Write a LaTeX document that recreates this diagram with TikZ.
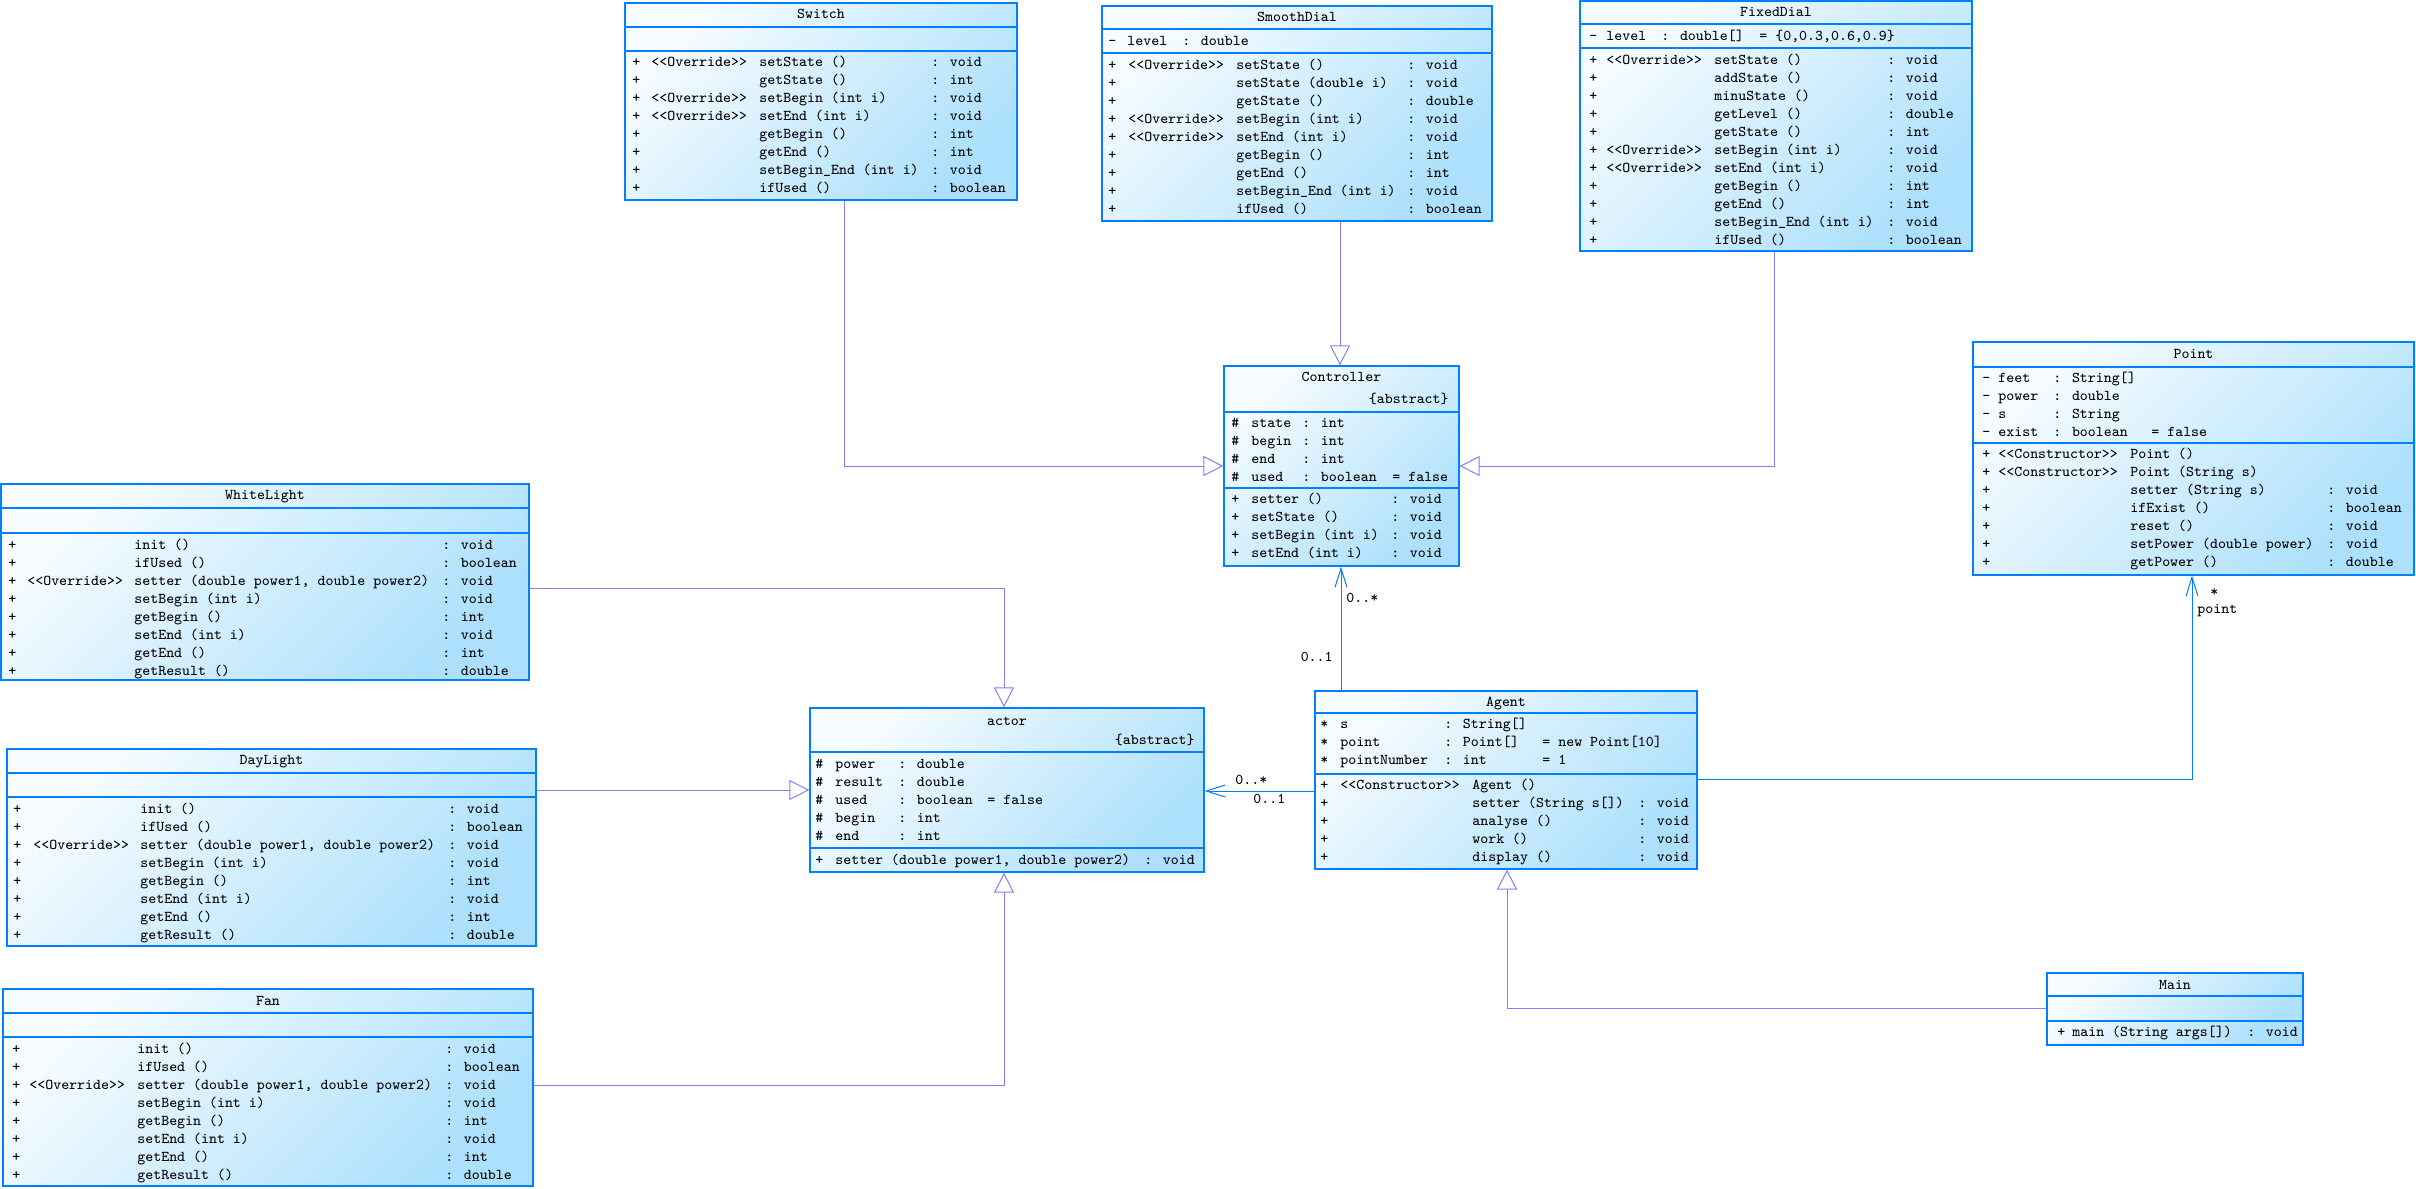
\documentclass[tikz,border=0pt]{standalone}
\usetikzlibrary{arrows.meta,fit}
\definecolor{bblue}{RGB}{0,128,255}
\definecolor{gline}{RGB}{128,128,255}
\definecolor{ctop}{RGB}{247,252,255}
\definecolor{cbot}{RGB}{172,224,252}
\newcommand\umlfont{\ttfamily\fontsize{7.5}{9}\selectfont}
\newcommand\hsep[2]{\draw[bblue, line width=0.6pt] (#1.west |- 0,#2) -- (#1.east |- 0,#2);}
\tikzset{
  classbox/.style={draw=bblue, line width=0.6pt, top color=ctop, bottom color=cbot, shading angle=45, inner sep=0pt},
  txt/.style={inner sep=0pt, font=\umlfont, text=black},
  gen/.style={draw=gline, line width=0.5pt, -{Triangle[open, length=10pt, width=10pt]}},
  asc/.style={draw=bblue, line width=0.5pt, -{Straight Barb[length=9.5pt, width=6pt]}},
}
\begin{document}
\begin{tikzpicture}[x=0.5pt, y=-0.5pt]
\fill[white] (0,0) rectangle (2416,1189);
\useasboundingbox (0,0) rectangle (2416,1189);

% ---------------- Switch
\node[classbox, fit={(625,3) (1017,200)}] (switch) {};
\hsep{switch}{27}\hsep{switch}{51}
\node[txt, anchor=base] (switch-t) at (switch.north |- 0,18) {Switch};
\node[txt, anchor=base west] (switch-o) at (632,66) {\begin{tabular}[t]{@{}p{9.5pt}@{}p{54pt}@{}p{86pt}@{}l@{}}
+ & <<Override>> & setState () & : void\\
+ & & getState () & : int\\
+ & <<Override>> & setBegin (int i) & : void\\
+ & <<Override>> & setEnd (int i) & : void\\
+ & & getBegin () & : int\\
+ & & getEnd () & : int\\
+ & & setBegin\_End (int i) & : void\\
+ & & ifUsed () & : boolean
\end{tabular}};

% ---------------- SmoothDial
\node[classbox, fit={(1102,6) (1492,221)}] (smooth) {};
\hsep{smooth}{29}\hsep{smooth}{53}
\node[txt, anchor=base] (smooth-t) at (smooth.north |- 0,21) {SmoothDial};
\node[txt, anchor=base west] (smooth-a) at (1108,45) {\begin{tabular}[t]{@{}p{9.5pt}@{}p{27.5pt}@{}l@{}}
- & level & : double
\end{tabular}};
\node[txt, anchor=base west] (smooth-o) at (1108,69) {\begin{tabular}[t]{@{}p{10pt}@{}p{54pt}@{}p{85.5pt}@{}l@{}}
+ & <<Override>> & setState () & : void\\
+ & & setState (double i) & : void\\
+ & & getState () & : double\\
+ & <<Override>> & setBegin (int i) & : void\\
+ & <<Override>> & setEnd (int i) & : void\\
+ & & getBegin () & : int\\
+ & & getEnd () & : int\\
+ & & setBegin\_End (int i) & : void\\
+ & & ifUsed () & : boolean
\end{tabular}};

% ---------------- FixedDial
\node[classbox, fit={(1580,1) (1972,251)}] (fixed) {};
\hsep{fixed}{24}\hsep{fixed}{48}
\node[txt, anchor=base] (fixed-t) at (fixed.north |- 0,16) {FixedDial};
\node[txt, anchor=base west] (fixed-a) at (1589,40) {\begin{tabular}[t]{@{}p{8.5pt}@{}p{27.5pt}@{}p{49pt}@{}l@{}}
- & level & : double[] & = \{0,0.3,0.6,0.9\}
\end{tabular}};
\node[txt, anchor=base west] (fixed-o) at (1589,64) {\begin{tabular}[t]{@{}p{8.5pt}@{}p{54pt}@{}p{86.5pt}@{}l@{}}
+ & <<Override>> & setState () & : void\\
+ & & addState () & : void\\
+ & & minuState () & : void\\
+ & & getLevel () & : double\\
+ & & getState () & : int\\
+ & <<Override>> & setBegin (int i) & : void\\
+ & <<Override>> & setEnd (int i) & : void\\
+ & & getBegin () & : int\\
+ & & getEnd () & : int\\
+ & & setBegin\_End (int i) & : void\\
+ & & ifUsed () & : boolean
\end{tabular}};

% ---------------- Controller
\node[classbox, fit={(1224,366) (1459,566)}] (ctrl) {};
\hsep{ctrl}{412}\hsep{ctrl}{488}
\node[txt, anchor=base] (ctrl-t) at (ctrl.north |- 0,381) {Controller};
\node[txt, anchor=base east] (ctrl-s) at (1449,403) {\{abstract\}};
\node[txt, anchor=base west] (ctrl-a) at (1231,427) {\begin{tabular}[t]{@{}p{10pt}@{}p{25.5pt}@{}p{45pt}@{}l@{}}
\# & state & : int & \\
\# & begin & : int & \\
\# & end & : int & \\
\# & used & : boolean & = false
\end{tabular}};
\node[txt, anchor=base west] (ctrl-o) at (1231,503) {\begin{tabular}[t]{@{}p{10pt}@{}p{70pt}@{}l@{}}
+ & setter () & : void\\
+ & setState () & : void\\
+ & setBegin (int i) & : void\\
+ & setEnd (int i) & : void
\end{tabular}};

% ---------------- Point
\node[classbox, fit={(1973,342) (2414,575)}] (point) {};
\hsep{point}{367}\hsep{point}{443}
\node[txt, anchor=base] (point-t) at (point.north |- 0,358) {Point};
\node[txt, anchor=base west] (point-a) at (1982,382) {\begin{tabular}[t]{@{}p{8pt}@{}p{27.5pt}@{}p{49pt}@{}l@{}}
- & feet & : String[] & \\
- & power & : double & \\
- & s & : String & \\
- & exist & : boolean & = false
\end{tabular}};
\node[txt, anchor=base west] (point-o) at (1982,458) {\begin{tabular}[t]{@{}p{8pt}@{}p{66pt}@{}p{98.5pt}@{}l@{}}
+ & <<Constructor>> & Point () & \\
+ & <<Constructor>> & Point (String s) & \\
+ & & setter (String s) & : void\\
+ & & ifExist () & : boolean\\
+ & & reset () & : void\\
+ & & setPower (double power) & : void\\
+ & & getPower () & : double
\end{tabular}};

% ---------------- actor
\node[classbox, fit={(810,708) (1204,872)}] (actor) {};
\hsep{actor}{752}\hsep{actor}{848}
\node[txt, anchor=base] (actor-t) at (actor.north |- 0,725) {actor};
\node[txt, anchor=base east] (actor-s) at (1195,744) {\{abstract\}};
\node[txt, anchor=base west] (actor-a) at (815,768) {\begin{tabular}[t]{@{}p{10pt}@{}p{31.5pt}@{}p{44.5pt}@{}l@{}}
\# & power & : double & \\
\# & result & : double & \\
\# & used & : boolean & = false\\
\# & begin & : int & \\
\# & end & : int &
\end{tabular}};
\node[txt, anchor=base west] (actor-o) at (815,864) {\begin{tabular}[t]{@{}p{10pt}@{}p{154.5pt}@{}l@{}}
+ & setter (double power1, double power2) & : void
\end{tabular}};

% ---------------- Agent
\node[classbox, fit={(1315,691) (1697,869)}] (agent) {};
\hsep{agent}{713}\hsep{agent}{774}
\node[txt, anchor=base] (agent-t) at (agent.north |- 0,706) {Agent};
\node[txt, anchor=base west] (agent-a) at (1320,728) {\begin{tabular}[t]{@{}p{10pt}@{}p{52pt}@{}p{49pt}@{}l@{}}
{*} & s & : String[] & \\
{*} & point & : Point[] & = new Point[10]\\
{*} & pointNumber & : int & = 1
\end{tabular}};
\node[txt, anchor=base west] (agent-o) at (1320,789) {\begin{tabular}[t]{@{}p{10pt}@{}p{66pt}@{}p{83pt}@{}l@{}}
+ & <<Constructor>> & Agent () & \\
+ & & setter (String s[]) & : void\\
+ & & analyse () & : void\\
+ & & work () & : void\\
+ & & display () & : void
\end{tabular}};

% ---------------- Main
\node[classbox, fit={(2047,973) (2303,1045)}] (main) {};
\hsep{main}{996}\hsep{main}{1021}
\node[txt, anchor=base] (main-t) at (main.north |- 0,989) {Main};
\node[txt, anchor=base west] (main-o) at (2057,1036) {\begin{tabular}[t]{@{}p{7.5pt}@{}p{87.5pt}@{}l@{}}
+ & main (String args[]) & : void
\end{tabular}};

% ---------------- WhiteLight
\node[classbox, fit={(1,484) (529,680)}] (white) {};
\hsep{white}{508}\hsep{white}{533}
\node[txt, anchor=base] (white-t) at (white.north |- 0,499) {WhiteLight};
\node[txt, anchor=base west] (white-o) at (8,549) {\begin{tabular}[t]{@{}p{9.5pt}@{}p{53.5pt}@{}p{154pt}@{}l@{}}
+ & & init () & : void\\
+ & & ifUsed () & : boolean\\
+ & <<Override>> & setter (double power1, double power2) & : void\\
+ & & setBegin (int i) & : void\\
+ & & getBegin () & : int\\
+ & & setEnd (int i) & : void\\
+ & & getEnd () & : int\\
+ & & getResult () & : double
\end{tabular}};

% ---------------- DayLight
\node[classbox, fit={(7,749) (536,946)}] (day) {};
\hsep{day}{773}\hsep{day}{797}
\node[txt, anchor=base] (day-t) at (day.north |- 0,764) {DayLight};
\node[txt, anchor=base west] (day-o) at (13,813) {\begin{tabular}[t]{@{}p{10pt}@{}p{53.5pt}@{}p{154pt}@{}l@{}}
+ & & init () & : void\\
+ & & ifUsed () & : boolean\\
+ & <<Override>> & setter (double power1, double power2) & : void\\
+ & & setBegin (int i) & : void\\
+ & & getBegin () & : int\\
+ & & setEnd (int i) & : void\\
+ & & getEnd () & : int\\
+ & & getResult () & : double
\end{tabular}};

% ---------------- Fan
\node[classbox, fit={(3,989) (533,1186)}] (fan) {};
\hsep{fan}{1013}\hsep{fan}{1037}
\node[txt, anchor=base] (fan-t) at (fan.north |- 0,1005) {Fan};
\node[txt, anchor=base west] (fan-o) at (12,1053) {\begin{tabular}[t]{@{}p{8.5pt}@{}p{54pt}@{}p{154pt}@{}l@{}}
+ & & init () & : void\\
+ & & ifUsed () & : boolean\\
+ & <<Override>> & setter (double power1, double power2) & : void\\
+ & & setBegin (int i) & : void\\
+ & & getBegin () & : int\\
+ & & setEnd (int i) & : void\\
+ & & getEnd () & : int\\
+ & & getResult () & : double
\end{tabular}};

% ---------------- generalizations
\draw[gen] (switch.south -| 844,0) |- (ctrl.west |- 0,466);
\draw[gen] (smooth.south -| 1340,0) -- (ctrl.north -| 1340,0);
\draw[gen] (fixed.south -| 1774,0) |- (ctrl.east |- 0,466);
\draw[gen] (white.east |- 0,588) -| (actor.north -| 1004,0);
\draw[gen] (day.east |- 0,790) -- (actor.west |- 0,790);
\draw[gen] (fan.east |- 0,1085) -| (actor.south -| 1004,0);
\draw[gen] (main.west |- 0,1008) -| (agent.south -| 1507,0);

% ---------------- associations
\draw[asc] (agent.north -| 1341,0) -- (ctrl.south -| 1341,0);
\draw[asc] (agent.west |- 0,791) -- (actor.east |- 0,791);
\draw[asc] (agent.east |- 0,779) -| (point.south -| 2192,0);

\node[txt, anchor=base west] (m1) at (1346,602) {0..*};
\node[txt, anchor=base east] (m2) at (1333,661) {0..1};
\node[txt, anchor=base west] (m3) at (1235,784) {0..*};
\node[txt, anchor=base west] (m4) at (1253,803) {0..1};
\node[txt, anchor=base west] (m5) at (2210,596) {*};
\node[txt, anchor=base west] (m6) at (2197,613) {point};
\end{tikzpicture}
\end{document}
